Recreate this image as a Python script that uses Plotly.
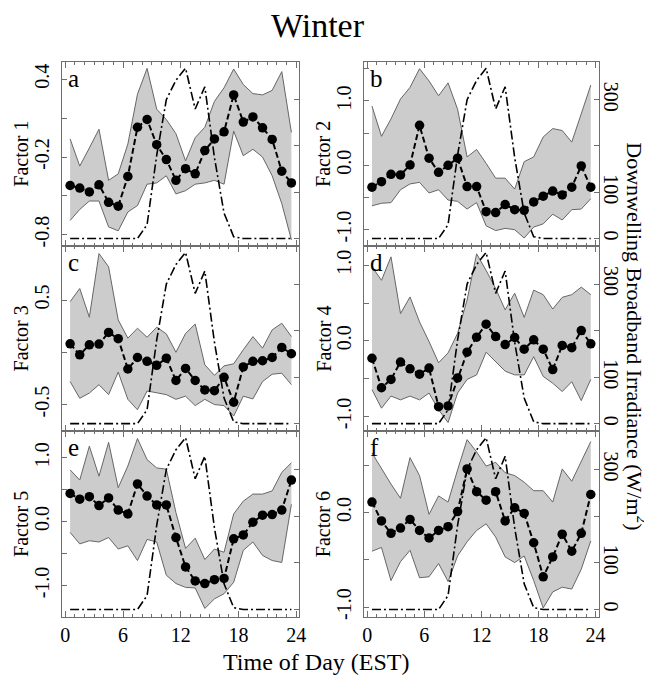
import plotly.graph_objects as go

# ---------------- data ----------------
hours = [h + 0.5 for h in range(24)]
x_ticks = [0, 6, 12, 18, 24]

irradiance = [0, 0, 0, 0, 0, 0, 0, 0, 30, 180, 300, 342, 368, 280, 328, 175, 55, 4,
              0, 0, 0, 0, 0, 0]

factor1 = [-0.42, -0.44, -0.47, -0.415, -0.55, -0.58, -0.35, 0.03, 0.09, -0.105, -0.22, -0.38,
           -0.29, -0.33, -0.15, -0.06, -0.005, 0.28, 0.07, 0.11, 0.026, -0.064, -0.31, -0.40]
factor1_hi = [-0.06, -0.27, -0.13, 0.015, -0.38, -0.33, -0.10, 0.285, 0.485, 0.17, 0.09, -0.02,
              -0.23, -0.05, 0.03, 0.23, 0.335, 0.48, 0.36, 0.29, 0.28, 0.315, 0.46, -0.01]
factor1_lo = [-0.69, -0.605, -0.54, -0.54, -0.74, -0.77, -0.625, -0.575, -0.41, -0.40, -0.345, -0.485,
              -0.46, -0.41, -0.40, -0.38, -0.41, 0.0, -0.19, -0.14, -0.2, -0.345, -0.56, -0.84]

factor2 = [-0.34, -0.255, -0.14, -0.15, 0.005, 0.62, 0.11, -0.11, 0.0, 0.11, -0.33, -0.33,
           -0.72, -0.735, -0.61, -0.69, -0.70, -0.57, -0.48, -0.40, -0.46, -0.34, -0.01, -0.34]
factor2_hi = [0.92, 0.45, 0.72, 1.03, 1.21, 1.5, 1.31, 1.08, 1.28, 0.87, 0.13, 0.245,
              0.03, -0.2, -0.2, -0.37, 0.056, 0.13, 0.44, 0.57, 0.54, 0.36, 0.80, 1.245]
factor2_lo = [-0.63, -0.59, -0.58, -0.38, -0.29, -0.265, -0.43, -0.38, -0.54, -0.56, -0.68, -0.58,
              -0.94, -1.015, -0.98, -1.0, -1.13, -0.96, -0.91, -0.76, -0.85, -0.69, -0.68, -0.52]

factor3 = [0.081, -0.024, 0.071, 0.078, 0.19, 0.13, -0.16, -0.05, -0.087, -0.125, -0.056, -0.27,
           -0.154, -0.27, -0.36, -0.367, -0.24, -0.478, -0.14, -0.087, -0.081, -0.05, 0.046, -0.014]
factor3_hi = [0.484, 0.61, 0.335, 0.944, 0.817, 0.31, 0.135, 0.23, 0.144, 0.24, 0.176, 0.0,
              0.18, 0.27, -0.12, -0.22, -0.13, -0.11, 0.024, 0.15, 0.04, 0.214, 0.278, 0.15]
factor3_lo = [-0.28, -0.44, -0.39, -0.31, -0.405, -0.19, -0.45, -0.55, -0.37, -0.39, -0.405, -0.45,
              -0.42, -0.51, -0.45, -0.5, -0.51, -0.61, -0.42, -0.446, -0.28, -0.21, -0.2, -0.31]

factor4 = [-0.23, -0.62, -0.51, -0.28, -0.37, -0.44, -0.36, -0.87, -0.86, -0.49, -0.15, 0.048,
           0.22, 0.057, -0.05, 0.044, -0.11, 0.013, -0.11, -0.38, -0.06, -0.09, 0.136, -0.04]
factor4_hi = [0.98, 0.80, 1.11, 0.36, 0.58, 0.25, -0.01, -0.29, -0.16, 0.10, 0.54, 1.15,
              0.93, 0.69, 0.41, 0.63, 0.31, 0.67, 0.61, 0.42, 0.575, 0.61, 0.71, 0.61]
factor4_lo = [-0.645, -0.89, -0.73, -0.78, -0.73, -0.78, -0.69, -0.91, -1.08, -0.69, -0.51, -0.45,
              -0.15, -0.27, -0.40, -0.45, -0.45, -0.21, -0.47, -0.56, -0.67, -0.54, -0.79, -0.51]

factor5 = [0.44, 0.35, 0.39, 0.25, 0.37, 0.18, 0.12, 0.59, 0.40, 0.26, 0.26, -0.25,
           -0.71, -0.93, -0.97, -0.91, -0.89, -0.27, -0.21, -0.01, 0.10, 0.11, 0.18, 0.65]
factor5_hi = [0.81, 0.65, 1.18, 0.71, 1.24, 0.53, 0.87, 1.30, 0.97, 0.84, 0.82, 0.14,
              -0.42, -0.26, -0.595, -0.43, -0.48, 0.12, 0.32, 0.43, 0.43, 0.48, 0.77, 0.92]
factor5_lo = [-0.17, -0.35, -0.30, -0.32, -0.25, -0.43, -0.38, -0.61, -0.28, -0.32, -0.84, -0.97,
              -1.03, -1.04, -1.36, -1.21, -1.13, -0.95, -0.45, -0.32, -0.53, -0.61, -0.64, 0.27]

factor6 = [0.11, -0.09, -0.22, -0.165, -0.074, -0.19, -0.27, -0.19, -0.15, 0.01, 0.46, 0.22,
           0.13, 0.22, -0.09, 0.05, -0.01, -0.32, -0.68, -0.47, -0.23, -0.41, -0.22, 0.19]
factor6_hi = [0.63, 0.46, 0.30, 0.15, 0.58, 0.39, -0.02, 0.175, 0.11, 0.45, 0.77, 0.64,
              0.49, 0.53, 0.42, 0.39, 0.32, 0.23, 0.23, 0.11, 0.46, 0.33, 0.54, 0.75]
factor6_lo = [-0.41, -0.37, -0.72, -0.52, -0.40, -0.69, -0.68, -0.54, -0.73, -0.46, -0.31, -0.19,
              -0.12, -0.26, -0.47, -0.53, -0.46, -0.72, -1.01, -0.84, -0.79, -0.81, -0.60, -0.30]

panel_letters = ["a", "b", "c", "d", "e", "f"]
factor_names = ["Factor 1", "Factor 2", "Factor 3", "Factor 4", "Factor 5", "Factor 6"]
factor_ranges = [[-0.887, 0.536], [-1.253, 1.608], [-0.754, 1.017],
                 [-1.193, 1.254], [-1.494, 1.416], [-1.105, 0.86]]
# labelled ticks
factor_tickvals = [[-0.8, -0.2, 0.4], [-1.0, 0.0, 1.0], [-0.5, 0.5],
                   [-1.0, 0.0, 1.0], [-1.0, 0.0, 1.0], [-1.0, 0.0]]
factor_ticktext = [["-0.8", "-0.2", "0.4"], ["-1.0", "0.0", "1.0"], ["-0.5", "0.5"],
                   ["-1.0", "0.0", "1.0"], ["-1.0", "0.0", "1.0"], ["-1.0", "0.0"]]
# unlabelled ticks
factor_minor = [[-0.5, 0.1], [-0.5, 0.5, 1.5], [0.0],
                [-0.5, 0.5], [-0.5, 0.5], [-0.5, 0.5]]
irr_tickvals = [0, 100, 300]
irr_ticktext = ["0", "100", "300"]
irr_minor = [200]

series = [(factor1, factor1_hi, factor1_lo), (factor2, factor2_hi, factor2_lo),
          (factor3, factor3_hi, factor3_lo), (factor4, factor4_hi, factor4_lo),
          (factor5, factor5_hi, factor5_lo), (factor6, factor6_hi, factor6_lo)]

# ---------------- layout geometry ----------------
W, H = 652, 677
FONT = "Liberation Serif, Times New Roman, serif"
col_px = [(53.3, 294.0), (359.0, 597.0)]
row_px = [(54.0, 239.0), (239.0, 425.0), (425.0, 611.7)]
XRANGE = [-0.38, 24.33]
IRR_RANGE = [-16, 382]
AXCOL = "#6e6e6e"

fig = go.Figure()
layout = dict(
    width=W, height=H, margin=dict(l=0, r=0, t=0, b=0),
    paper_bgcolor="white", plot_bgcolor="white", showlegend=False,
    font=dict(family=FONT, color="black", size=18),
)
annotations = []

for i in range(6):
    r, c = divmod(i, 2)
    n = i + 1
    nr = i + 7
    xname = "x" if n == 1 else f"x{n}"
    yname = "y" if n == 1 else f"y{n}"
    yrname = f"y{nr}"
    x0, x1 = col_px[c]
    y0, y1 = row_px[r]
    xdom = [x0 / W, x1 / W]
    ydom = [1 - y1 / H, 1 - y0 / H]
    vals, hi, lo = series[i]

    # band
    fig.add_trace(go.Scatter(x=hours, y=lo, mode="lines", line=dict(color="#666666", width=1),
                             xaxis=xname, yaxis=yname, hoverinfo="skip"))
    fig.add_trace(go.Scatter(x=hours, y=hi, mode="lines", line=dict(color="#666666", width=1),
                             fill="tonexty", fillcolor="#cccccc",
                             xaxis=xname, yaxis=yname, hoverinfo="skip"))
    # irradiance
    fig.add_trace(go.Scatter(x=hours, y=irradiance, mode="lines",
                             line=dict(color="black", width=1.6, dash="9px,3px,2px,3px"),
                             xaxis=xname, yaxis=yrname))
    # factor
    fig.add_trace(go.Scatter(x=hours, y=vals, mode="lines+markers",
                             line=dict(color="black", width=2, dash="6px,3px"),
                             marker=dict(color="black", size=9.5),
                             xaxis=xname, yaxis=yname))

    xkey = "xaxis" if n == 1 else f"xaxis{n}"
    ykey = "yaxis" if n == 1 else f"yaxis{n}"
    yrkey = f"yaxis{nr}"
    layout[xkey] = dict(
        domain=xdom, anchor=yname, range=XRANGE, tickvals=x_ticks,
        ticktext=[str(t) for t in x_ticks], showticklabels=(r == 2),
        ticks="inside", ticklen=6, tickcolor=AXCOL,
        minor=dict(dtick=1, tick0=0, ticks="inside", ticklen=3, tickcolor=AXCOL),
        showline=True, linecolor=AXCOL, linewidth=1, mirror="ticks",
        showgrid=False, zeroline=False, tickfont=dict(size=20),
    )
    layout[ykey] = dict(
        domain=ydom, anchor=xname, range=factor_ranges[i],
        tickvals=factor_tickvals[i], ticktext=factor_ticktext[i], tickangle=-90,
        ticks="inside", ticklen=5, tickcolor=AXCOL, ticklabelstandoff=4,
        minor=dict(tickvals=factor_minor[i], ticks="inside", ticklen=5, tickcolor=AXCOL),
        showline=True, linecolor=AXCOL, linewidth=1, mirror=True,
        showgrid=False, zeroline=False, tickfont=dict(size=20),
    )
    layout[yrkey] = dict(
        overlaying=yname, anchor=xname, side="right", range=IRR_RANGE,
        tickvals=irr_tickvals, ticktext=irr_ticktext, tickangle=90,
        showticklabels=(c == 1), ticks="inside", ticklen=5, tickcolor=AXCOL,
        minor=dict(tickvals=irr_minor, ticks="inside", ticklen=5, tickcolor=AXCOL),
        showline=False, showgrid=False, zeroline=False, tickfont=dict(size=20),
    )
    # factor axis title
    annotations.append(dict(
        text=factor_names[i], textangle=-90, xref="paper", yref="paper",
        x=(12 if c == 0 else 318) / W, y=1 - ((y0 + y1) / 2) / H,
        xanchor="center", yanchor="middle", showarrow=False, font=dict(size=20),
    ))
    # panel letter
    annotations.append(dict(
        text=panel_letters[i], xref="paper", yref="paper",
        x=(x0 + 4) / W, y=1 - (y0 + 1) / H, xanchor="left", yanchor="top",
        showarrow=False, font=dict(size=25),
    ))

annotations.append(dict(text="Winter", xref="paper", yref="paper", x=313 / W, y=1 - 18 / H,
                        xanchor="center", yanchor="middle", showarrow=False,
                        font=dict(size=34)))
annotations.append(dict(text="Time of Day (EST)", xref="paper", yref="paper", x=311 / W,
                        y=1 - 657 / H, xanchor="center", yanchor="middle", showarrow=False,
                        font=dict(size=24)))
annotations.append(dict(text="Downwelling Broadband Irradiance (W/m<sup>2</sup>)",
                        textangle=90, xref="paper", yref="paper", x=636 / W, y=1 - 330 / H,
                        xanchor="center", yanchor="middle", showarrow=False,
                        font=dict(size=22)))
layout["annotations"] = annotations
fig.update_layout(**layout)
fig.write_html("out.html")
